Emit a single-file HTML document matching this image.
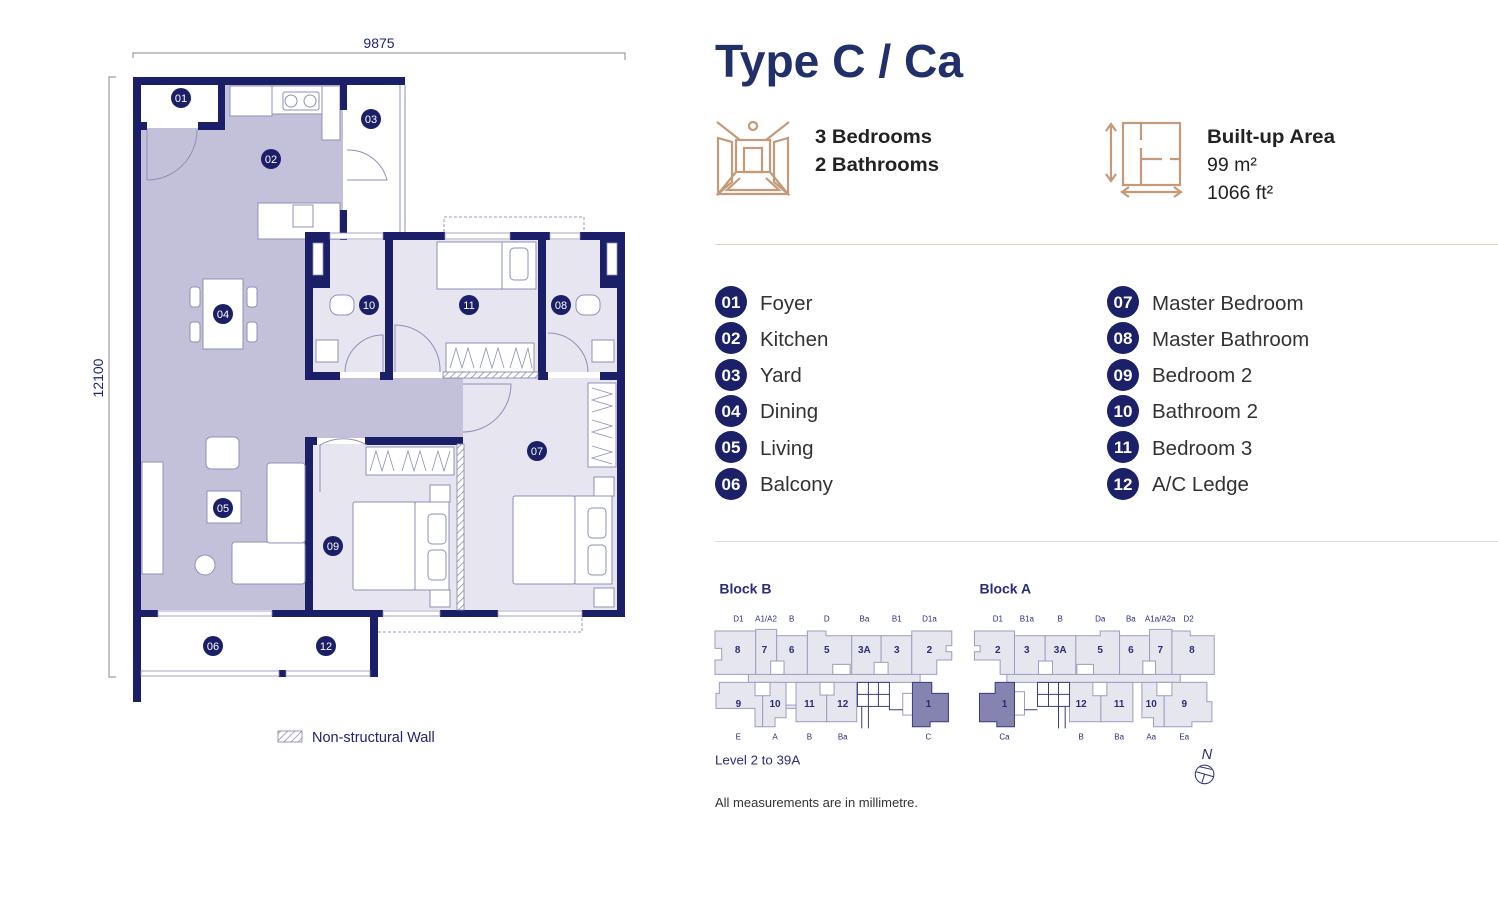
<!DOCTYPE html>
<html><head><meta charset="utf-8"><style>
html,body{margin:0;padding:0;background:#fff;}
svg{display:block;font-family:"Liberation Sans",sans-serif;}
</style></head><body>
<svg width="1498" height="915" viewBox="0 0 1498 915" xmlns="http://www.w3.org/2000/svg">
<defs>
<pattern id="hatch" width="5" height="5" patternUnits="userSpaceOnUse" patternTransform="rotate(45)">
<rect width="5" height="5" fill="#fff"/><line x1="0" y1="0" x2="0" y2="5" stroke="#7d7fa8" stroke-width="1.4"/></pattern>
</defs>

<g stroke="#888" stroke-width="1" fill="none">
<path d="M133 58 V53 H625 V60"/>
<path d="M116 77 H109 V677 H116"/>
</g>
<text x="379" y="48" font-size="14" fill="#1d2470" text-anchor="middle">9875</text>
<text transform="translate(103,378) rotate(-90)" font-size="14" fill="#1d2470" text-anchor="middle">12100</text>

<g>
<rect x="141" y="128" width="164" height="482" fill="#c3c1d9"/>
<rect x="225" y="85" width="118" height="155" fill="#c3c1d9"/>
<rect x="141" y="128" width="90" height="10" fill="#c3c1d9"/>
<rect x="305" y="378" width="158" height="60" fill="#c3c1d9"/>
<rect x="141" y="85" width="77" height="37" fill="#fff"/>
<rect x="347" y="85" width="58" height="147" fill="#fff"/>
<rect x="312" y="240" width="73" height="132" fill="#e6e5f0"/>
<rect x="392" y="240" width="146" height="132" fill="#e6e5f0"/>
<rect x="546" y="240" width="71" height="132" fill="#e6e5f0"/>
<rect x="312" y="444" width="145" height="166" fill="#e6e5f0"/>
<rect x="463" y="378" width="154" height="232" fill="#e6e5f0"/>
<rect x="141" y="617" width="229" height="60" fill="#fff"/>
</g>

<g fill="#fff" stroke="#8e90b8" stroke-width="1">
<rect x="230" y="86" width="42" height="30"/>
<rect x="272" y="86" width="50" height="28"/>
<rect x="283" y="92" width="36" height="18" rx="2"/>
<rect x="322" y="86" width="18" height="54"/>
<rect x="258" y="203" width="82" height="36"/>
<rect x="293" y="205" width="20" height="22"/>
</g>
<g fill="none" stroke="#8e90b8" stroke-width="1">
<circle cx="291" cy="101" r="6"/><circle cx="310" cy="101" r="6"/>
<line x1="405" y1="85" x2="405" y2="232"/><line x1="400" y1="85" x2="400" y2="232"/>
</g>

<g fill="none" stroke="#9a9cc0" stroke-width="1" stroke-dasharray="3,2">
<path d="M444 232 V217 H584 V232"/>
<path d="M378 632 H582 V617"/>
</g>

<g fill="#1b1f68">
<rect x="133" y="77" width="8" height="625"/>
<rect x="133" y="77" width="272" height="8"/>
<rect x="218" y="85" width="7" height="45"/>
<rect x="141" y="122" width="6" height="8"/>
<rect x="198" y="122" width="27" height="8"/>
<rect x="340" y="85" width="7" height="25"/>
<rect x="340" y="210" width="7" height="30"/>
<rect x="305" y="232" width="25" height="8"/>
<rect x="383" y="232" width="62" height="8"/>
<rect x="510" y="232" width="40" height="8"/>
<rect x="580" y="232" width="45" height="8"/>
<rect x="305" y="232" width="8" height="148"/>
<rect x="385" y="240" width="8" height="138"/>
<rect x="538" y="232" width="8" height="148"/>
<rect x="617" y="232" width="8" height="385"/>
<rect x="305" y="240" width="25" height="48"/>
<rect x="600" y="240" width="25" height="48"/>
<rect x="305" y="372" width="35" height="8"/>
<rect x="380" y="372" width="13" height="8"/>
<rect x="538" y="372" width="10" height="8"/>
<rect x="600" y="372" width="25" height="8"/>
<rect x="305" y="437" width="8" height="180"/>
<rect x="305" y="437" width="12" height="8"/>
<rect x="365" y="437" width="98" height="8"/>
<rect x="141" y="610" width="17" height="7"/>
<rect x="272" y="610" width="111" height="7"/>
<rect x="440" y="610" width="58" height="7"/>
<rect x="582" y="610" width="43" height="7"/>
<rect x="370" y="617" width="8" height="60"/>
<rect x="279" y="670" width="7" height="7"/>
</g>
<g fill="#fff" stroke="#8e90b8" stroke-width="0.8">
<rect x="313" y="243" width="10" height="32"/>
<rect x="607" y="243" width="10" height="32"/>
</g>
<g fill="#fff" stroke="#8e90b8" stroke-width="0.8">
<rect x="330" y="233" width="53" height="6"/>
<rect x="445" y="233" width="65" height="6"/>
<rect x="550" y="233" width="30" height="6"/>
<rect x="158" y="611" width="114" height="5"/>
<rect x="383" y="611" width="57" height="5"/>
<rect x="498" y="611" width="84" height="5"/>
<rect x="141" y="671" width="138" height="5"/>
<rect x="286" y="671" width="84" height="5"/>
</g>
<rect x="457" y="444" width="7" height="166" fill="url(#hatch)" stroke="#7d7fa8" stroke-width="0.8"/>
<rect x="443" y="372" width="95" height="6" fill="url(#hatch)" stroke="#7d7fa8" stroke-width="0.8"/>

<g fill="#fff" stroke="#8e90b8" stroke-width="1">
<rect x="203" y="279" width="40" height="70"/>
<rect x="190" y="287" width="10" height="20" rx="3"/><rect x="190" y="322" width="10" height="20" rx="3"/>
<rect x="247" y="287" width="10" height="20" rx="3"/><rect x="247" y="322" width="10" height="20" rx="3"/>
<rect x="206" y="437" width="33" height="32" rx="5"/>
<rect x="207" y="491" width="34" height="32"/>
<rect x="142" y="462" width="21" height="112"/>
<circle cx="205" cy="565" r="10"/>
<rect x="232" y="542" width="73" height="42" rx="3"/>
<rect x="267" y="463" width="38" height="80" rx="3"/>
<rect x="437" y="242" width="65" height="47"/>
<rect x="502" y="242" width="34" height="47"/>
<rect x="510" y="248" width="18" height="32" rx="4"/>
<rect x="446" y="343" width="88" height="29"/>
<rect x="366" y="447" width="88" height="28"/>
<rect x="588" y="383" width="28" height="84"/>
<rect x="353" y="502" width="62" height="88" rx="2"/>
<rect x="415" y="502" width="34" height="88"/>
<rect x="430" y="485" width="20" height="17"/><rect x="430" y="590" width="20" height="17"/>
<rect x="513" y="496" width="62" height="88" rx="2"/>
<rect x="575" y="496" width="37" height="88"/>
<rect x="594" y="477" width="20" height="19"/><rect x="594" y="588" width="20" height="19"/>
<rect x="588" y="508" width="18" height="30" rx="4"/><rect x="588" y="545" width="18" height="30" rx="4"/>
<rect x="428" y="514" width="18" height="30" rx="4"/><rect x="428" y="550" width="18" height="30" rx="4"/>
<rect x="330" y="295" width="24" height="20" rx="8"/>
<rect x="576" y="295" width="24" height="20" rx="8"/>
<rect x="316" y="340" width="22" height="22"/>
<rect x="592" y="340" width="22" height="22"/>
</g>
<g fill="none" stroke="#8e90b8" stroke-width="0.8">
<path d="M450 368 L456 348 L462 368 L468 348 L474 368 M480 368 L486 348 L492 368 L498 348 L504 368 M510 368 L516 348 L522 368 L528 348 L532 368"/>
<path d="M370 471 L376 451 L382 471 L388 451 L394 471 M402 471 L408 451 L414 471 L420 451 L426 471 M432 471 L438 451 L444 471 L450 451"/>
<path d="M592 388 L612 394 L592 400 L612 406 L592 412 M592 420 L612 426 L592 432 L612 438 M592 446 L612 452 L592 458 L612 464"/>
</g>
<g fill="none" stroke="#8e90b8" stroke-width="1">
<path d="M147 180 V130 M147 180 A50 50 0 0 0 197 130"/>
<path d="M347 150 A40 40 0 0 1 387 180 H347"/>
<path d="M345 372 A38 38 0 0 1 383 335 V372"/>
<path d="M395 372 V325 A45 45 0 0 1 440 372"/>
<path d="M548 333 A40 40 0 0 1 588 372"/>
<path d="M463 432 A48 48 0 0 0 511 384 H463"/>
<path d="M320 492 V445 A47 47 0 0 1 367 445"/>
</g>

<g fill="#1b1f68">
<circle cx="181" cy="98" r="10"/><circle cx="271" cy="159" r="10"/><circle cx="371" cy="119" r="10"/>
<circle cx="223" cy="314" r="10"/><circle cx="223" cy="508" r="10"/><circle cx="213" cy="646" r="10"/>
<circle cx="537" cy="451" r="10"/><circle cx="561" cy="305" r="10"/><circle cx="333" cy="546" r="10"/>
<circle cx="369" cy="305" r="10"/><circle cx="469" cy="305" r="10"/><circle cx="326" cy="646" r="10"/>
</g>
<g fill="#fff" font-size="11" text-anchor="middle">
<text x="181" y="102">01</text><text x="271" y="163">02</text><text x="371" y="123">03</text>
<text x="223" y="318">04</text><text x="223" y="512">05</text><text x="213" y="650">06</text>
<text x="537" y="455">07</text><text x="561" y="309">08</text><text x="333" y="550">09</text>
<text x="369" y="309">10</text><text x="469" y="309">11</text><text x="326" y="650">12</text>
</g>

<rect x="278" y="731" width="24" height="11" fill="url(#hatch)" stroke="#7d7fa8" stroke-width="0.8"/>
<text x="312" y="742" font-size="14.5" fill="#1d2470">Non-structural Wall</text>

<text x="715" y="77" font-size="46" font-weight="bold" fill="#22306a" textLength="248" lengthAdjust="spacingAndGlyphs">Type C / Ca</text>

<g fill="none" stroke="#c49a78" stroke-width="2.2">
<circle cx="753" cy="126" r="4"/>
<path d="M717 122 L740 140 M789 122 L766 140"/>
<rect x="736" y="140" width="34" height="32"/>
<rect x="744" y="148" width="18" height="24"/>
<path d="M718 138 L732 142 V182 L718 194 Z"/>
<path d="M788 138 L774 142 V182 L788 194 Z"/>
<path d="M736 172 L718 194 H788 L770 172"/>
<path d="M740 178 L727 190 H779 L766 178"/>
</g>
<text x="815" y="143" font-size="19.5" font-weight="bold" fill="#222" textLength="117" lengthAdjust="spacingAndGlyphs">3 Bedrooms</text>
<text x="815" y="171" font-size="19.5" font-weight="bold" fill="#222" textLength="124" lengthAdjust="spacingAndGlyphs">2 Bathrooms</text>

<g fill="none" stroke="#c49a78" stroke-width="2.2">
<rect x="1123" y="123" width="57" height="62"/>
<path d="M1141 123 V140 M1141 148 V185 M1141 159 H1162 M1170 159 H1180"/>
<path d="M1111 125 V180 M1106 131 L1111 124 L1116 131 M1106 174 L1111 181 L1116 174"/>
<path d="M1123 192 H1180 M1129 187 L1122 192 L1129 197 M1174 187 L1181 192 L1174 197"/>
</g>
<text x="1207" y="143" font-size="19.5" font-weight="bold" fill="#222" textLength="128" lengthAdjust="spacingAndGlyphs">Built-up Area</text>
<text x="1207" y="171" font-size="19.5" fill="#222">99 m²</text>
<text x="1207" y="199" font-size="19.5" fill="#222">1066 ft²</text>

<line x1="715" y1="244.5" x2="1498" y2="244.5" stroke="#e8d3c0" stroke-width="1"/>

<g fill="#1b2068">
<circle cx="731" cy="302" r="16"/><circle cx="731" cy="338" r="16"/><circle cx="731" cy="375" r="16"/>
<circle cx="731" cy="411" r="16"/><circle cx="731" cy="447" r="16"/><circle cx="731" cy="484" r="16"/>
<circle cx="1123" cy="302" r="16"/><circle cx="1123" cy="338" r="16"/><circle cx="1123" cy="375" r="16"/>
<circle cx="1123" cy="411" r="16"/><circle cx="1123" cy="447" r="16"/><circle cx="1123" cy="484" r="16"/>
</g>
<g fill="#fff" font-size="17" font-weight="bold" text-anchor="middle">
<text x="731" y="308">01</text><text x="731" y="344">02</text><text x="731" y="381">03</text>
<text x="731" y="417">04</text><text x="731" y="453">05</text><text x="731" y="490">06</text>
<text x="1123" y="308">07</text><text x="1123" y="344">08</text><text x="1123" y="381">09</text>
<text x="1123" y="417">10</text><text x="1123" y="453">11</text><text x="1123" y="490">12</text>
</g>
<g fill="#333" font-size="20.5">
<text x="760" y="310">Foyer</text><text x="760" y="346">Kitchen</text><text x="760" y="382">Yard</text>
<text x="760" y="418">Dining</text><text x="760" y="455">Living</text><text x="760" y="491">Balcony</text>
<text x="1152" y="310">Master Bedroom</text><text x="1152" y="346">Master Bathroom</text><text x="1152" y="382">Bedroom 2</text>
<text x="1152" y="418">Bathroom 2</text><text x="1152" y="455">Bedroom 3</text><text x="1152" y="491">A/C Ledge</text>
</g>

<line x1="715" y1="541.5" x2="1498" y2="541.5" stroke="#dcdcdc" stroke-width="1"/>

<g transform="translate(710,575) scale(0.3335)">
<g fill="#e6e6ef" stroke="#9c9dc2" stroke-width="3">
<rect x="115" y="295" width="515" height="27"/>
<path d="M15 168 H137 V298 H15 V255 H35 V220 H15 Z"/>
<path d="M137 163 H200 V298 H137 Z"/>
<rect x="200" y="182" width="92" height="116"/>
<path d="M292 168 H348 V182 H425 V298 H292 Z"/>
<rect x="425" y="182" width="88" height="116"/>
<rect x="513" y="182" width="92" height="116"/>
<path d="M605 168 H725 V212 H708 V230 H725 V255 H680 V298 H605 Z"/>
<path d="M28 322 H158 V455 H135 V400 H18 V355 H28 Z"/>
<path d="M158 322 H228 V428 H195 V455 H158 Z"/>
<rect x="228" y="390" width="30" height="10"/>
<rect x="258" y="322" width="92" height="118"/>
<rect x="350" y="322" width="90" height="118"/>
<rect x="890" y="295" width="520" height="27"/>
<path d="M793 168 H913 V298 H870 V255 H793 V230 H810 V212 H793 Z"/>
<rect x="913" y="182" width="92" height="116"/>
<rect x="1005" y="182" width="92" height="116"/>
<path d="M1097 182 H1170 V168 H1228 V298 H1097 Z"/>
<rect x="1228" y="182" width="90" height="116"/>
<path d="M1318 163 H1385 V298 H1318 Z"/>
<path d="M1385 168 H1440 V182 H1512 V298 H1385 Z"/>
<rect x="1078" y="322" width="94" height="118"/>
<rect x="1172" y="322" width="96" height="118"/>
<path d="M1295 322 H1362 V455 H1330 V428 H1295 Z"/>
<path d="M1362 322 H1490 V380 H1505 V440 H1445 V455 H1362 Z"/>
</g>
<g fill="#fff" stroke="#9c9dc2" stroke-width="3">
<rect x="182" y="258" width="40" height="40"/><rect x="368" y="268" width="52" height="30"/><rect x="492" y="262" width="42" height="36"/>
<rect x="135" y="322" width="45" height="40"/><rect x="330" y="322" width="42" height="38"/>
<rect x="985" y="258" width="42" height="40"/><rect x="1100" y="268" width="50" height="30"/><rect x="1298" y="258" width="38" height="40"/>
<rect x="1148" y="322" width="42" height="40"/><rect x="1340" y="322" width="45" height="40"/>
<rect x="578" y="355" width="30" height="65"/><rect x="913" y="350" width="30" height="70"/>
</g>
<g fill="none" stroke="#3a3d80" stroke-width="3">
<rect x="442" y="322" width="96" height="72"/><line x1="442" y1="358" x2="538" y2="358"/><line x1="475" y1="322" x2="475" y2="394"/><line x1="505" y1="322" x2="505" y2="394"/>
<path d="M455 394 V460 M475 394 V460 M538 394 V404 H578"/>
<rect x="982" y="322" width="96" height="72"/><line x1="982" y1="358" x2="1078" y2="358"/><line x1="1015" y1="322" x2="1015" y2="394"/><line x1="1045" y1="322" x2="1045" y2="394"/>
<path d="M1045 394 V460 M1065 394 V460 M943 404 H982"/>
</g>
<path d="M607 322 H665 V355 H715 V440 H660 V455 H607 Z" fill="#8583b0" stroke="#3a3d80" stroke-width="3"/>
<path d="M855 322 H913 V455 H860 V440 H808 V355 H855 Z" fill="#8583b0" stroke="#3a3d80" stroke-width="3"/>

<g fill="#2a2d78" font-size="30" font-weight="bold" text-anchor="middle">
<text x="83" y="234">8</text><text x="163" y="234">7</text><text x="245" y="234">6</text><text x="350" y="234">5</text>
<text x="463" y="234">3A</text><text x="560" y="234">3</text><text x="658" y="234">2</text>
<text x="85" y="396">9</text><text x="195" y="396">10</text><text x="298" y="396">11</text><text x="398" y="396">12</text><text x="655" y="396">1</text>
<text x="863" y="234">2</text><text x="950" y="234">3</text><text x="1050" y="234">3A</text><text x="1170" y="234">5</text>
<text x="1262" y="234">6</text><text x="1350" y="234">7</text><text x="1445" y="234">8</text>
<text x="883" y="396">1</text><text x="1113" y="396">12</text><text x="1227" y="396">11</text><text x="1323" y="396">10</text><text x="1422" y="396">9</text>
</g>
<g fill="#2a2d78" font-size="24" text-anchor="middle">
<text x="85" y="140">D1</text><text x="168" y="140">A1/A2</text><text x="245" y="140">B</text><text x="350" y="140">D</text>
<text x="463" y="140">Ba</text><text x="560" y="140">B1</text><text x="658" y="140">D1a</text>
<text x="85" y="493">E</text><text x="195" y="493">A</text><text x="298" y="493">B</text><text x="398" y="493">Ba</text><text x="655" y="493">C</text>
<text x="863" y="140">D1</text><text x="950" y="140">B1a</text><text x="1050" y="140">B</text><text x="1170" y="140">Da</text>
<text x="1262" y="140">Ba</text><text x="1350" y="140">A1a/A2a</text><text x="1435" y="140">D2</text>
<text x="883" y="493">Ca</text><text x="1113" y="493">B</text><text x="1227" y="493">Ba</text><text x="1323" y="493">Aa</text><text x="1422" y="493">Ea</text>
</g>
<g fill="#2a2d78" font-size="42" font-weight="bold">
<text x="28" y="55">Block B</text><text x="808" y="55">Block A</text>
</g>
<text x="15" y="568" font-size="40" fill="#2a2d78">Level 2 to 39A</text>
<text x="1490" y="552" font-size="44" font-style="italic" fill="#2a2d78" text-anchor="middle">N</text>
<g fill="none" stroke="#2a2d78" stroke-width="3">
<circle cx="1483" cy="598" r="28"/><path d="M1458 590 L1510 605 M1483 598 L1475 622 M1468 575 L1505 583"/>
</g>
</g>

<text x="715" y="807" font-size="13" fill="#333">All measurements are in millimetre.</text>
</svg>
</body></html>
